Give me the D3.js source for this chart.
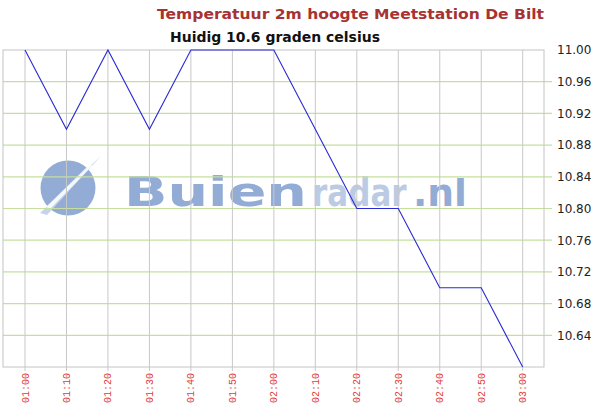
<!DOCTYPE html>
<html><head><meta charset="utf-8">
<script src="https://cdn.jsdelivr.net/npm/d3@7/dist/d3.min.js"></script>
<style>body{margin:0;background:#fff}svg{display:block}</style>
</head><body>
<script>
const times = ["01:00","01:10","01:20","01:30","01:40","01:50","02:00","02:10","02:20","02:30","02:40","02:50","03:00"];
const temps = [11.00,10.90,11.00,10.90,11.00,11.00,11.00,10.90,10.80,10.80,10.70,10.70,10.60];
const yTicks = [10.64,10.68,10.72,10.76,10.80,10.84,10.88,10.92,10.96,11.00];
const title = "Temperatuur 2m hoogte Meetstation De Bilt";
const subtitle = "Huidig 10.6 graden celsius";

const W = 611, H = 410;
const L = 3, R = 544, T = 50, B = 367;
const svg = d3.select("body").append("svg").attr("width", W).attr("height", H);

const x = d3.scalePoint().domain(times).range([25, 522.7]);
const y = d3.scaleLinear().domain([10.6, 11.0]).range([B, T]);

// watermark
const wm = svg.append("g");
wm.append("circle").attr("cx", 68).attr("cy", 188).attr("r", 27.5).attr("fill", "#93acd5");
wm.append("path").attr("d", "M101,156 L47,215 L40,213 Z").attr("fill", "#c6d4ea");
wm.append("path").attr("d", "M93,165 L50,209 L46,207 L88,166 Z").attr("fill", "#ffffff").attr("opacity", 0.85);
wm.append("text").attr("x", 124).attr("y", 206).attr("font-family", "DejaVu Sans").attr("font-weight", "bold")
  .attr("font-size", 41).attr("fill", "#93acd5").attr("textLength", 183).attr("lengthAdjust", "spacingAndGlyphs").text("Buien");
wm.append("text").attr("transform", "translate(312,206) scale(1,1.28)").attr("font-family", "DejaVu Sans").attr("font-weight", "bold")
  .attr("font-size", 31).attr("fill", "#bccbe4").text("radar");
wm.append("text").attr("x", 413).attr("y", 206).attr("font-family", "DejaVu Sans").attr("font-weight", "bold")
  .attr("font-size", 38).attr("fill", "#93acd5").attr("textLength", 54).attr("lengthAdjust", "spacingAndGlyphs").text(".nl");

// horizontal grid (green)
svg.append("g").selectAll("line").data(yTicks.filter(d => d < 11)).join("line")
  .attr("x1", L).attr("x2", 552).attr("y1", d => y(d)).attr("y2", d => y(d))
  .attr("stroke", "#c6df9f").attr("stroke-width", 1.2);

// vertical grid
svg.append("g").selectAll("line").data(times).join("line")
  .attr("x1", d => x(d)).attr("x2", d => x(d)).attr("y1", T).attr("y2", 371)
  .attr("stroke", "#c8c8c8").attr("stroke-width", 1);

// box
svg.append("rect").attr("x", L).attr("y", T).attr("width", R - L).attr("height", B - T)
  .attr("fill", "none").attr("stroke", "#c4c4c4").attr("stroke-width", 1);

// y labels
svg.append("g").selectAll("text").data(yTicks).join("text")
  .attr("x", 557).attr("y", d => y(d)).attr("dy", "0.36em")
  .attr("font-family", "DejaVu Sans").attr("font-size", 12).attr("fill", "#222")
  .text(d => d.toFixed(2));

// x labels
svg.append("g").selectAll("text").data(times).join("text")
  .attr("transform", d => `translate(${x(d) + 3.5},373) rotate(-90)`)
  .attr("text-anchor", "end")
  .attr("font-family", "Liberation Mono").attr("font-size", 10).attr("fill", "#e03a3a")
  .text(d => d);

// line
const line = d3.line().x((d, i) => x(times[i])).y(d => y(d));
svg.append("path").datum(temps).attr("d", line).attr("fill", "none")
  .attr("stroke", "#2a2ad4").attr("stroke-width", 1.1);

// titles
svg.append("text").attr("x", 157).attr("y", 19).attr("font-family", "DejaVu Sans").attr("font-weight", "bold")
  .attr("font-size", 14.5).attr("fill", "#a83232").attr("textLength", 387).attr("lengthAdjust", "spacingAndGlyphs").text(title);
svg.append("text").attr("x", 170).attr("y", 42).attr("font-family", "DejaVu Sans").attr("font-weight", "bold")
  .attr("font-size", 13.5).attr("fill", "#111").attr("textLength", 210).attr("lengthAdjust", "spacingAndGlyphs").text(subtitle);
</script>
</body></html>
